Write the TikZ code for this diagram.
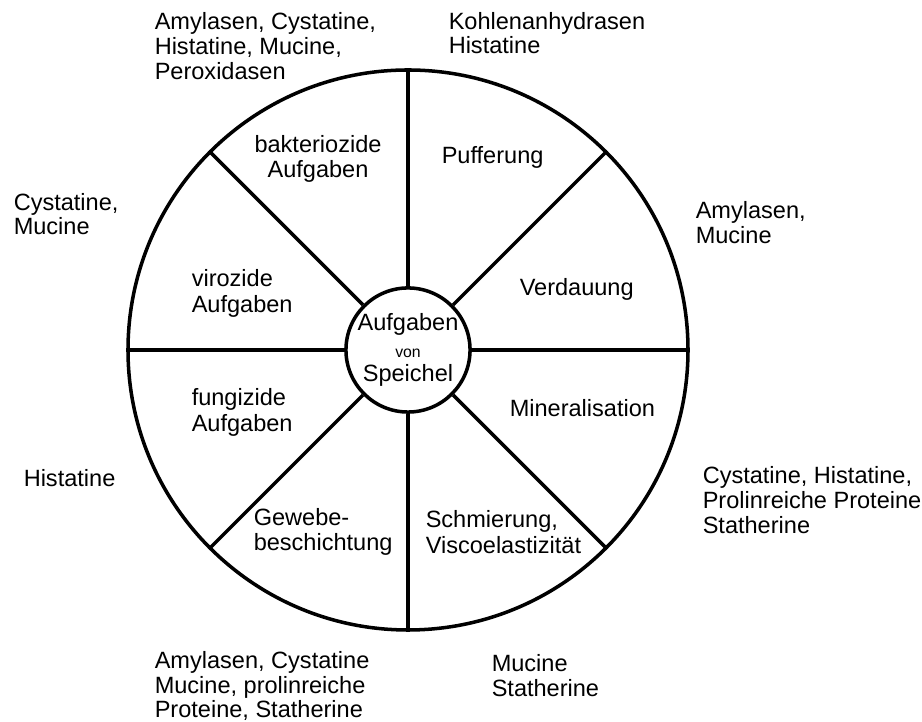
\documentclass[tikz,border=0pt]{standalone}
\usepackage{fontspec}
\setmainfont{Liberation Sans}
\begin{document}
\begin{tikzpicture}[line width=2pt,
  lbl/.style={anchor=west,inner sep=0pt,align=left,font=\fontsize{13.4}{14}\selectfont},
  sec/.style={inner sep=0pt,align=left,font=\fontsize{13.4}{14.6}\selectfont}]
\useasboundingbox (0,0) rectangle (18.44,14.44);
\node[shape=circle,draw,minimum size=11.2cm,inner sep=0pt](Rim) at (8.16,7.44){};
\node[shape=circle,draw,fill=white,minimum size=2.4cm,inner sep=0pt,align=center,font=\fontsize{13.4}{12}\selectfont](C) at (8.16,7.44){Aufgaben\\[3.4pt]{\fontsize{9}{9}\selectfont von}\\[1.5pt]Speichel};

\draw (C.0) -- (Rim.0);
\draw (C.45) -- (Rim.45);
\draw (C.90) -- (Rim.90);
\draw (C.135) -- (Rim.135);
\draw (C.180) -- (Rim.180);
\draw (C.225) -- (Rim.225);
\draw (C.270) -- (Rim.270);
\draw (C.315) -- (Rim.315);

% sectors
\node[sec,align=center](Bakt) at (6.36,11.26){bakteriozide\\Aufgaben};
\node[sec,anchor=west](Puff) at (8.80,11.30){Pufferung};
\node[sec,anchor=west](Viro) at (3.80,8.57){virozide\\Aufgaben};
\node[sec,anchor=west](Verd) at (10.36,8.66){Verdauung};
\node[sec,anchor=west](Fung) at (3.80,6.19){fungizide\\Aufgaben};
\node[sec,anchor=west](Mine) at (10.16,6.28){Mineralisation};
\node[sec,anchor=west](Gewe) at (5.04,3.80){Gewebe-\\beschichtung};
\node[sec,anchor=west](Schm) at (8.48,3.80){Schmierung,\\Viscoelastizit\"at};

% outside
\node[lbl](AmyTop) at (3.06,13.52){Amylasen, Cystatine,\\Histatine, Mucine,\\Peroxidasen};
\node[lbl](Kohlen) at (8.94,13.78){Kohlenanhydrasen\\Histatine};
\node[lbl](CysL) at (0.24,10.16){Cystatine,\\Mucine};
\node[lbl](AmyR) at (13.88,9.99){Amylasen,\\Mucine};
\node[lbl](HisL) at (0.44,4.88){Histatine};
\node[lbl](CysR) at (14.02,4.44){Cystatine, Histatine,\\Prolinreiche Proteine\\Statherine};
\node[lbl](AmyB) at (3.06,0.72){Amylasen, Cystatine\\Mucine, prolinreiche\\Proteine, Statherine};
\node[lbl](MucB) at (9.80,0.93){Mucine\\Statherine};
\end{tikzpicture}
\end{document}
